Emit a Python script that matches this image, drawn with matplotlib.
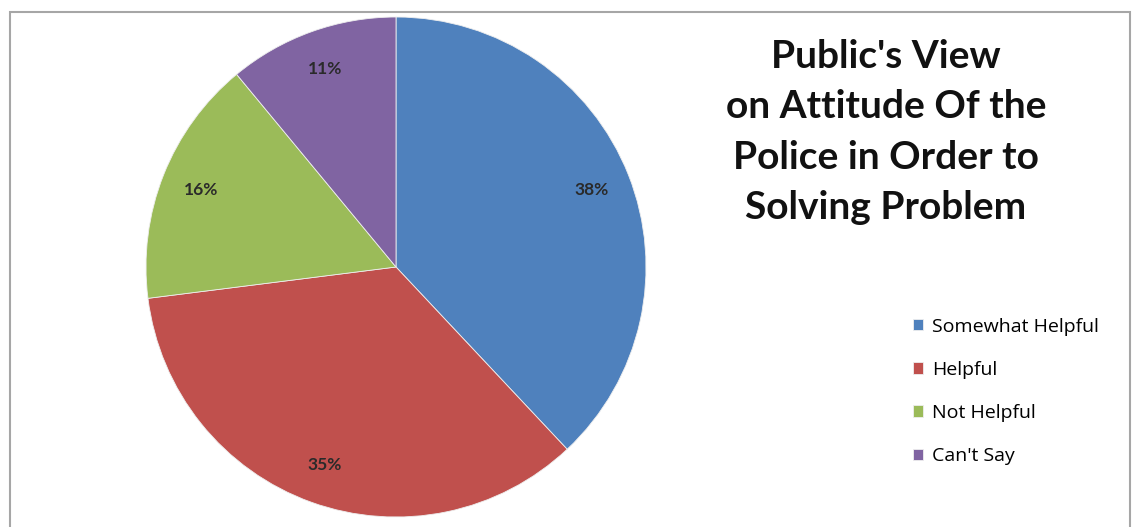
import matplotlib.pyplot as plt
from matplotlib.patches import Rectangle

# datos del grafico
categorias = ["Somewhat Helpful", "Helpful", "Not Helpful", "Can't Say"]
porcentajes = [38, 35, 16, 11]
colores = ["#4F81BD", "#C0504D", "#9BBB59", "#8064A2"]
titulo = "Public's View\non Attitude Of the\nPolice in Order to\nSolving Problem"

fig = plt.figure(figsize=(11.33, 5.27), dpi=100)
fig.patch.set_facecolor("white")

# marco gris del area del grafico
fig.patches.append(Rectangle((10 / 1133, -0.05), 1120 / 1133, 1.0 - 12 / 527 + 0.05,
                             transform=fig.transFigure, fill=False,
                             edgecolor="#A6A6A6", linewidth=1.5))

ax = fig.add_axes([146 / 1133, 1 - 517 / 527, 500 / 1133, 500 / 527])
cunas, textos, autotextos = ax.pie(porcentajes, colors=colores, startangle=90,
                                   counterclock=False, autopct='%d%%',
                                   pctdistance=0.84,
                                   wedgeprops=dict(linewidth=0.6, edgecolor="#EEEEEE"))
for t in autotextos:
    t.set_fontsize(12.5)
    t.set_family("Lato")
    t.set_fontweight("bold")
    t.set_color("#2A2A2A")
ax.set_xlim(-1, 1)
ax.set_ylim(-1, 1)
ax.set_aspect('equal')

# titulo a la derecha
fig.text(886 / 1133, 1 - 132 / 527, titulo, ha='center', va='center',
         fontsize=28, fontweight='bold', family='Lato', linespacing=1.52,
         color="#111111")

# leyenda
fig.legend(cunas, categorias, loc='upper left',
           bbox_to_anchor=(895 / 1133, 1 - 300 / 527), frameon=False,
           prop={'family': 'Open Sans', 'size': 14}, handlelength=0.55,
           handleheight=0.55, handletextpad=0.45, labelspacing=1.3)

plt.savefig("out.png", dpi=100)
